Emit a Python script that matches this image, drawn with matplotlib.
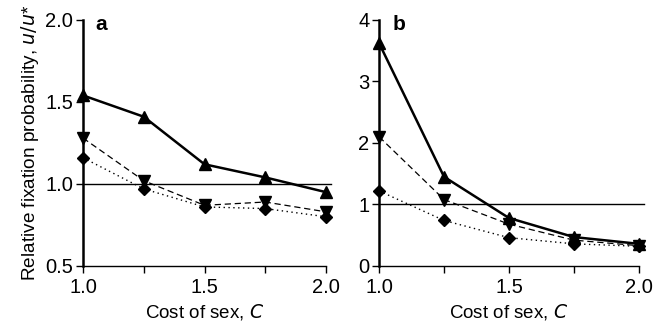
import matplotlib.pyplot as plt

plt.rcParams['font.family'] = ['Liberation Sans', 'DejaVu Sans']

cost = [1.0, 1.25, 1.5, 1.75, 2.0]

# panel a
a_up = [1.54, 1.41, 1.12, 1.04, 0.95]
a_down = [1.28, 1.02, 0.87, 0.89, 0.83]
a_diamond = [1.16, 0.97, 0.86, 0.85, 0.80]

# panel b
b_up = [3.62, 1.45, 0.78, 0.47, 0.36]
b_down = [2.10, 1.08, 0.68, 0.42, 0.33]
b_diamond = [1.22, 0.74, 0.46, 0.36, 0.32]

fig = plt.figure(figsize=(6.64, 3.22), dpi=100)
ax_a = fig.add_axes([0.125, 0.174, 0.366, 0.764])
ax_b = fig.add_axes([0.571, 0.174, 0.391, 0.764])


def draw(ax, up, down, dia, ylim, yticks, ylabels, label):
    ax.axhline(1.0, color='black', lw=1.0, xmin=0, xmax=1.02, clip_on=False)
    ax.plot(cost, dia, color='black', lw=1.0, ls=(0, (1, 2.5)),
            marker='D', ms=6.5, clip_on=False, zorder=3)
    ax.plot(cost, down, color='black', lw=0.9, ls=(0, (5, 3)),
            marker='v', ms=9, clip_on=False, zorder=3)
    ax.plot(cost, up, color='black', lw=1.8, ls='-',
            marker='^', ms=9, clip_on=False, zorder=4)
    ax.set_xlim(1.0, 2.0)
    ax.set_ylim(*ylim)
    ax.set_xticks(cost)
    ax.set_xticklabels(['1.0', '', '1.5', '', '2.0'])
    ax.set_yticks(yticks)
    ax.set_yticklabels(ylabels)
    ax.spines['top'].set_visible(False)
    ax.spines['right'].set_visible(False)
    ax.spines['left'].set_linewidth(1.8)
    ax.spines['bottom'].set_linewidth(1.0)
    ax.tick_params(direction='out', length=5, width=1.0, labelsize=14.5, pad=2)
    ax.tick_params(axis='x', pad=4)
    ax.set_xlabel('Cost of sex, $\\it{C}$', fontsize=13.5, labelpad=3)
    ax.text(0.05, 1.02, label, transform=ax.transAxes, fontsize=15,
            fontweight='bold', va='top', ha='left')


draw(ax_a, a_up, a_down, a_diamond, (0.5, 2.0),
     [0.5, 1.0, 1.5, 2.0], ['0.5', '1.0', '1.5', '2.0'], 'a')
draw(ax_b, b_up, b_down, b_diamond, (0, 4),
     [0, 1, 2, 3, 4], ['0', '1', '2', '3', '4'], 'b')

ax_a.set_ylabel('Relative fixation probability, $\\it{u/u}$*', fontsize=13.7,
                labelpad=3)

fig.savefig('out.png', dpi=100)
